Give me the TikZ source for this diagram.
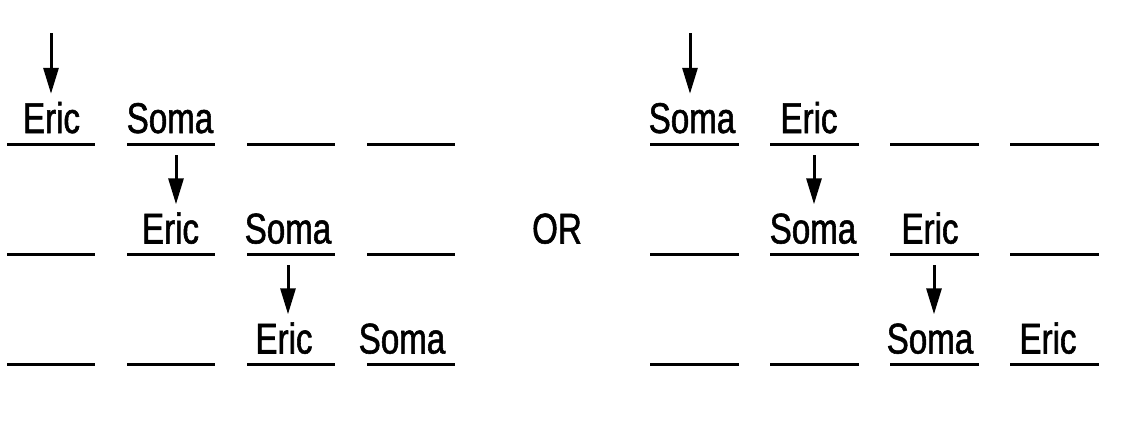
\documentclass[tikz,border=0pt]{standalone}
\usepackage{fontspec}
\setmainfont{Liberation Sans}[FakeStretch=0.77,FakeBold=1.3]
\usetikzlibrary{arrows.meta}
\begin{document}
\begin{tikzpicture}[x=1pt,y=-1pt,
  blank/.style={fill=black,inner sep=0pt,minimum width=88pt,minimum height=3pt,draw=none},
  word/.style={anchor=base,inner sep=0pt,font=\fontsize{43}{43}\selectfont,text height=30pt,text depth=0pt},
  arr/.style={line width=3pt,-{Triangle[length=26pt,width=15pt]},shorten >=9pt}]
\useasboundingbox (0,0) rectangle (1128,426);
% blank lines
\foreach \r/\y in {1/144,2/254.5,3/364.5}{
  \foreach \c/\x in {1/51,2/171,3/291,4/411}{
    \node[blank] (L\r\c) at (\x,\y) {};
  }
  \foreach \c/\x in {1/694.5,2/814.5,3/934.5,4/1054.5}{
    \node[blank,minimum width=89pt] (R\r\c) at (\x,\y) {};
  }
}
% words, left group
\node[word] (le1) at (51.5,133) {Eric};
\node[word] (ls1) at (170,133) {Soma};
\node[word] (le2) at (170.5,243.5) {Eric};
\node[word] (ls2) at (288,243.5) {Soma};
\node[word] (le3) at (284,353.5) {Eric};
\node[word] (ls3) at (402,353.5) {Soma};
% OR
\node[word] (or) at (557,243.5) {OR};
% words, right group
\node[word] (rs1) at (692,133) {Soma};
\node[word] (re1) at (809,133) {Eric};
\node[word] (rs2) at (813,243.5) {Soma};
\node[word] (re2) at (930,243.5) {Eric};
\node[word] (rs3) at (930,353.5) {Soma};
\node[word] (re3) at (1048,353.5) {Eric};
% arrow starts
\coordinate (a1) at (51,33);
\coordinate (a2) at (176,155);
\coordinate (a3) at (288,265);
\coordinate (b1) at (690,33);
\coordinate (b2) at (814,155);
\coordinate (b3) at (934,265);
\draw[arr] (a1) -- (a1 |- le1.north);
\draw[arr] (a2) -- (a2 |- le2.north);
\draw[arr] (a3) -- (a3 |- le3.north);
\draw[arr] (b1) -- (b1 |- rs1.north);
\draw[arr] (b2) -- (b2 |- rs2.north);
\draw[arr] (b3) -- (b3 |- rs3.north);
\end{tikzpicture}
\end{document}
